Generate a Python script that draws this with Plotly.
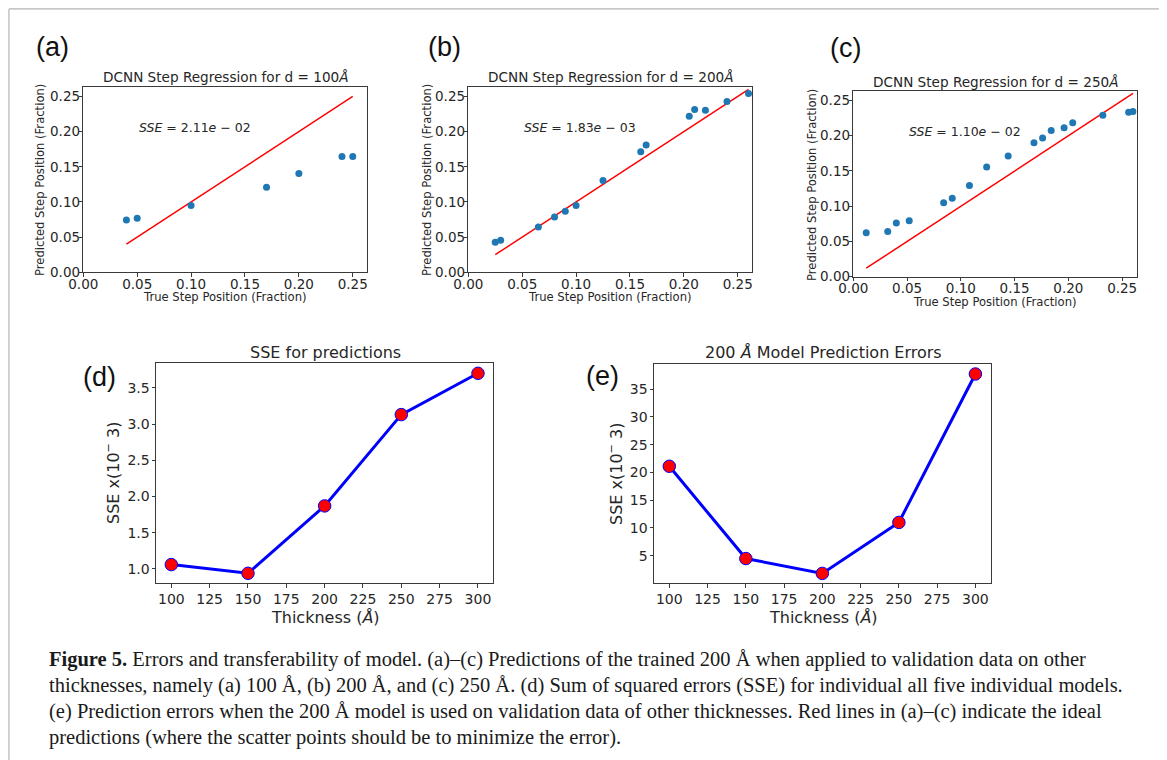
import plotly.graph_objects as go

# page body has an 8px default margin -> figure drawn from (8, 8)
OFF = 8
W, H = 1167 - OFF, 760 - OFF

# ---------------- data ----------------
a_true = [0.04, 0.05, 0.10, 0.17, 0.20, 0.24, 0.25]
a_pred = [0.0745, 0.0768, 0.0949, 0.121, 0.1404, 0.1646, 0.1646]

b_true = [0.025, 0.030, 0.065, 0.080, 0.090, 0.100, 0.125, 0.160, 0.165, 0.205, 0.210, 0.220, 0.240, 0.260]
b_pred = [0.0427, 0.0455, 0.0645, 0.0787, 0.0868, 0.0949, 0.1305, 0.1713, 0.1812, 0.222, 0.2315, 0.2306, 0.2429, 0.2543]

c_true = [0.012, 0.032, 0.040, 0.052, 0.084, 0.092, 0.108, 0.124, 0.144, 0.168, 0.176, 0.184, 0.196, 0.204, 0.232, 0.256, 0.260]
c_pred = [0.0624, 0.0643, 0.0762, 0.0795, 0.1048, 0.1114, 0.1295, 0.1557, 0.1714, 0.190, 0.1967, 0.2076, 0.2114, 0.2186, 0.229, 0.2333, 0.2343]

sse_text = ["2.11", "1.83", "1.10"]
sse_exp = ["02", "03", "02"]
thick_labels = ["100", "200", "250"]

thickness = [100, 150, 200, 250, 300]
sse_models = [1.06, 0.94, 1.87, 3.13, 3.70]
sse_200model = [21.1, 4.5, 1.83, 11.0, 37.7]

frac_ticks = [0.0, 0.05, 0.10, 0.15, 0.20, 0.25]
thick_ticks = [100, 125, 150, 175, 200, 225, 250, 275, 300]
d_yticks = [1.0, 1.5, 2.0, 2.5, 3.0, 3.5]
e_yticks = [5, 10, 15, 20, 25, 30, 35]

caption_lines = [
    "<b>Figure 5.</b> Errors and transferability of model. (a)–(c) Predictions of the trained 200 Å when applied to validation data on other",
    "thicknesses, namely (a) 100 Å, (b) 200 Å, and (c) 250 Å. (d) Sum of squared errors (SSE) for individual all five individual models.",
    "(e) Prediction errors when the 200 Å model is used on validation data of other thicknesses. Red lines in (a)–(c) indicate the ideal",
    "predictions (where the scatter points should be to minimize the error).",
]

# ---------------- helpers (reference pixel -> paper) ----------------
def px(x):
    return (x - OFF) / W

def py(y):
    return 1 - (y - OFF) / H

SANS = "DejaVu Sans"
TXT = "#262626"
BLUE_PT = "#1f77b4"

fig = go.Figure()

scatter_sets = [(a_true, a_pred), (b_true, b_pred), (c_true, c_pred)]
for i, (xt, yp) in enumerate(scatter_sets):
    xa = "x" if i == 0 else f"x{i+1}"
    ya = "y" if i == 0 else f"y{i+1}"
    lo, hi = min(xt), max(xt)
    fig.add_trace(go.Scatter(x=[lo, hi], y=[lo, hi], mode="lines",
                             line=dict(color="#ff0000", width=1.5),
                             xaxis=xa, yaxis=ya, showlegend=False, hoverinfo="skip"))
    fig.add_trace(go.Scatter(x=xt, y=yp, mode="markers",
                             marker=dict(color=BLUE_PT, size=7),
                             xaxis=xa, yaxis=ya, showlegend=False))

for j, ys in enumerate([sse_models, sse_200model]):
    xa, ya = f"x{4+j}", f"y{4+j}"
    fig.add_trace(go.Scatter(x=thickness, y=ys, mode="lines+markers",
                             line=dict(color="#0000ff", width=3),
                             marker=dict(color="#ff0000", size=12.5,
                                         line=dict(color="#0000ff", width=1)),
                             xaxis=xa, yaxis=ya, showlegend=False))

# ---------------- axes ----------------
def ax_common(fs, standoff):
    return dict(showgrid=False, zeroline=False, showline=True, mirror=True,
                automargin=False,
                linecolor="#3a3a3a", linewidth=1, ticks="outside", ticklen=3.5,
                ticklabelstandoff=standoff,
                tickcolor="#3a3a3a", tickfont=dict(family=SANS, size=fs, color=TXT))

boxes = {
    1: ((83.3, 367.3), (87.0, 272.3)),
    2: ((468.3, 752.3), (87.0, 272.3)),
    3: ((853.3, 1136.7), (91.0, 276.7)),
    4: ((156.0, 493.3), (363.3, 583.3)),
    5: ((654.0, 990.7), (364.0, 583.3)),
}

layout_axes = {}
for k, ((x0, x1), (y0, y1)) in boxes.items():
    xname = "xaxis" if k == 1 else f"xaxis{k}"
    yname = "yaxis" if k == 1 else f"yaxis{k}"
    anchor_x = "y" if k == 1 else f"y{k}"
    anchor_y = "x" if k == 1 else f"x{k}"
    if k <= 3:
        xa = ax_common(13.5, -4)
        xa.update(domain=[px(x0), px(x1)], anchor=anchor_x, range=[0, 0.2635],
                  tickvals=frac_ticks, tickformat=".2f")
        ya = ax_common(13.5, -4)
        ya.update(domain=[py(y1), py(y0)], anchor=anchor_y, range=[0, 0.2635],
                  tickvals=frac_ticks, tickformat=".2f")
    elif k == 4:
        xa = ax_common(14, -1)
        xa.update(domain=[px(x0), px(x1)], anchor=anchor_x, range=[90, 310],
                  tickvals=thick_ticks)
        ya = ax_common(14, -1)
        ya.update(domain=[py(y1), py(y0)], anchor=anchor_y, range=[0.802, 3.838],
                  tickvals=d_yticks, tickformat=".1f")
    else:
        xa = ax_common(14, -1)
        xa.update(domain=[px(x0), px(x1)], anchor=anchor_x, range=[90, 310],
                  tickvals=thick_ticks)
        ya = ax_common(14, -1)
        ya.update(domain=[py(y1), py(y0)], anchor=anchor_y, range=[0.05, 39.5],
                  tickvals=e_yticks)
    layout_axes[xname] = xa
    layout_axes[yname] = ya

fig.update_layout(**layout_axes)

# ---------------- annotations ----------------
ann = []

def paper_text(text, x, y, size, family=SANS, angle=0, color=TXT, xanchor="center"):
    ann.append(dict(text=text, x=px(x), y=py(y), xref="paper", yref="paper",
                    xanchor=xanchor, yanchor="middle", showarrow=False,
                    textangle=angle, font=dict(family=family, size=size, color=color)))

# panel letters
for lab, x, y in [("(a)", 52.5, 47), ("(b)", 445, 47), ("(c)", 845, 48),
                  ("(d)", 99, 377), ("(e)", 602, 376)]:
    paper_text(lab, x, y, 27, family="Liberation Sans", color="#111111")

# scatter panel titles and axis labels
for i, (tx, ty, ylx, yly) in enumerate([(226, 77, 40, 180), (611, 77, 427, 180), (996, 82, 812, 185)]):
    paper_text(f"DCNN Step Regression for d = {thick_labels[i]}<i>Å</i>", tx, ty, 13.6)
    paper_text("True Step Position (Fraction)", tx - 1, 297 + (5 if i == 2 else 0), 11.6)
    paper_text("Predicted Step Position (Fraction)", ylx, yly, 11.6, angle=-90)
    xa = "x" if i == 0 else f"x{i+1}"
    ya = "y" if i == 0 else f"y{i+1}"
    ann.append(dict(text=f"<i>SSE</i> = {sse_text[i]}<i>e</i> − {sse_exp[i]}",
                    x=0.05, y=0.206, xref=xa, yref=ya, xanchor="left", yanchor="middle",
                    showarrow=False, font=dict(family=SANS, size=12.5, color=TXT)))

# line panel titles and labels
paper_text("SSE for predictions", 325, 353, 16)
paper_text("200 <i>Å</i> Model Prediction Errors", 823, 353, 16)
paper_text("Thickness (<i>Å</i>)", 325, 617, 16)
paper_text("Thickness (<i>Å</i>)", 823, 617, 16)
paper_text("SSE x(10<sup>−</sup> 3)", 112, 473, 16, angle=-90)
paper_text("SSE x(10<sup>−</sup> 3)", 615, 474, 16, angle=-90)

# caption
for n, line in enumerate(caption_lines):
    paper_text(line, 47, 659.5 + 26 * n, 20.5, family="Liberation Serif",
               color="#1a1a1a", xanchor="left")

# outer frame (left, top, right edges)
fx0, fx1 = 0.9 / W, px(1163.3)
fy1 = 1 - 0.9 / H
frame_line = dict(color="#c8c8c8", width=1.6)
shapes = [
    dict(type="line", xref="paper", yref="paper", x0=fx0, x1=fx0, y0=-0.05, y1=fy1, line=frame_line),
    dict(type="line", xref="paper", yref="paper", x0=fx0, x1=fx1, y0=fy1, y1=fy1, line=frame_line),
    dict(type="line", xref="paper", yref="paper", x0=fx1, x1=fx1, y0=-0.05, y1=fy1, line=frame_line),
]

fig.update_layout(
    annotations=ann,
    width=W, height=H,
    margin=dict(l=0, r=0, t=0, b=0, autoexpand=False),
    paper_bgcolor="white", plot_bgcolor="white",
    showlegend=False,
    shapes=shapes,
)

fig.write_html("out.html")
